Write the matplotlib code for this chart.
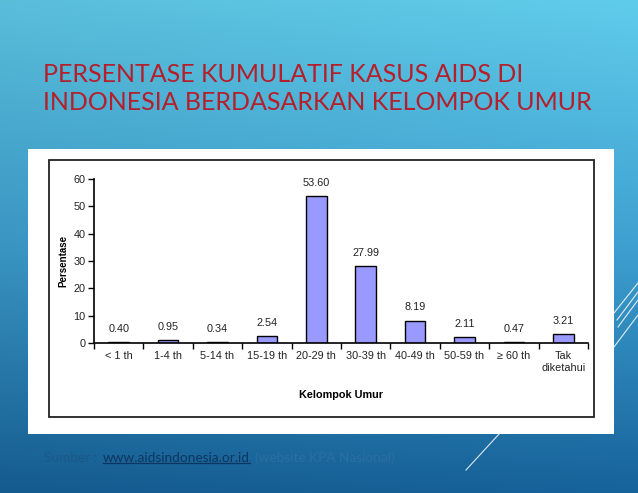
import numpy as np
import matplotlib
matplotlib.use("Agg")
import matplotlib.pyplot as plt
from matplotlib.patches import Rectangle
from matplotlib.lines import Line2D

categories = ["< 1 th", "1-4 th", "5-14 th", "15-19 th", "20-29 th", "30-39 th",
              "40-49 th", "50-59 th", "\u2265 60 th", "Tak\ndiketahui"]
values = [0.40, 0.95, 0.34, 2.54, 53.60, 27.99, 8.19, 2.11, 0.47, 3.21]
value_labels = ["0.40", "0.95", "0.34", "2.54", "53.60", "27.99", "8.19", "2.11", "0.47", "3.21"]
yticks = [0, 10, 20, 30, 40, 50, 60]

W, H = 638, 493
fig = plt.figure(figsize=(W / 100, H / 100), dpi=100)

def fx(px):
    return px / W

def fy(py):
    return 1 - py / H

# background gradient
bg = fig.add_axes([0, 0, 1, 1], zorder=0)
bg.set_axis_off()
top = np.array([96, 204, 235]) / 255
mid = np.array([62, 160, 208]) / 255
bot = np.array([22, 98, 154]) / 255
t = np.linspace(0, 1, 256)[:, None]
grad = np.where(t < 0.5, top + (mid - top) * (t / 0.5), mid + (bot - mid) * ((t - 0.5) / 0.5))
xs = np.linspace(0, 1, 256)[None, :, None]
img = grad[:, None, :] * (0.93 + 0.07 * xs)
bg.imshow(np.clip(img, 0, 1), aspect="auto", extent=[0, 1, 0, 1], origin="upper")
bg.set_xlim(0, 1)
bg.set_ylim(0, 1)

# decorative lines
for (x0, y0, x1, y1) in [(466, 470, 500, 433), (614, 347, 638, 315), (614, 313, 638, 283),
                         (617, 320, 638, 292), (618, 327, 638, 300)]:
    fig.add_artist(Line2D([fx(x0), fx(x1)], [fy(y0), fy(y1)], color="white", lw=0.8,
                          alpha=0.85, transform=fig.transFigure, zorder=1))

# title
title_font = ["Lato", "DejaVu Sans"]
fig.text(fx(43), fy(74), "PERSENTASE KUMULATIF KASUS AIDS DI", color="#b41f2b",
         fontsize=18, family=title_font, va="center", ha="left", zorder=3)
fig.text(fx(43), fy(103), "INDONESIA BERDASARKAN KELOMPOK UMUR", color="#b41f2b",
         fontsize=18, family=title_font, va="center", ha="left", zorder=3)

# white box and chart frame
fig.add_artist(Rectangle((fx(28), fy(434)), fx(614 - 28), (434 - 149) / H, facecolor="white",
                         edgecolor="none", transform=fig.transFigure, zorder=1))
fig.add_artist(Rectangle((fx(49), fy(417)), fx(594 - 49), (417 - 160) / H, facecolor="white",
                         edgecolor="#222222", lw=1.3, transform=fig.transFigure, zorder=2))

# chart
chart_font = ["Liberation Sans Narrow", "Liberation Sans", "DejaVu Sans"]
ax = fig.add_axes([fx(94), fy(343), fx(588 - 94), (343 - 179) / H], zorder=3)
ax.patch.set_alpha(0)
x = np.arange(len(categories))
ax.bar(x, values, width=0.42, color="#9999ff", edgecolor="black", linewidth=1.0)
for xi, v, lab in zip(x, values, value_labels):
    ax.text(xi, v + 3.0, lab, ha="center", va="bottom", fontsize=7.8, family=chart_font, color="#222222")
ax.set_xlim(-0.5, len(categories) - 0.5)
ax.set_ylim(0, 60)
ax.set_yticks(yticks)
ax.set_yticklabels([str(v) for v in yticks], fontsize=7.8, family=chart_font, color="#222222")
ax.set_xticks(np.arange(-0.5, len(categories), 1.0))
ax.set_xticklabels([])
ax.set_xticks(x, minor=True)
ax.set_xticklabels(categories, minor=True, fontsize=7.8, family=chart_font, color="#222222",
                   linespacing=1.2, va="top")
ax.tick_params(axis="x", which="minor", length=0, pad=6)
ax.tick_params(axis="x", which="major", length=4, width=1, color="black", direction="out")
ax.tick_params(axis="y", length=4, width=1, direction="out", pad=2)
for s in ["top", "right"]:
    ax.spines[s].set_visible(False)
for s in ["left", "bottom"]:
    ax.spines[s].set_linewidth(1.2)
ax.set_ylabel("Persentase", fontsize=7, fontweight="bold", family=chart_font, labelpad=4)
ax.set_xlabel("Kelompok Umur", fontsize=7.8, fontweight="bold", family=chart_font, labelpad=12)

# source line with underlined link
fig.canvas.draw()
r = fig.canvas.get_renderer()
src_font = ["Lato", "DejaVu Sans"]
yb = fy(458)
t1 = fig.text(fx(44), yb, "Sumber : ", color="#1c5888", fontsize=9.8, family=src_font, va="center", zorder=3)
bb1 = t1.get_window_extent(r)
t2 = fig.text(bb1.x1 / W + fx(2), yb, "www.aidsindonesia.or.id", color="#0e3560", fontsize=9.8,
              family=src_font, va="center", zorder=3)
bb2 = t2.get_window_extent(r)
fig.add_artist(Line2D([bb2.x0 / W, bb2.x1 / W], [(bb2.y0 + 1) / H, (bb2.y0 + 1) / H],
                      color="#0e3560", lw=0.9, transform=fig.transFigure, zorder=3))
fig.text(bb2.x1 / W + fx(5), yb, "(website KPA Nasional)", color="#2a6ea2", fontsize=9.8,
         family=src_font, va="center", zorder=3)

fig.savefig("out.png", dpi=100)
